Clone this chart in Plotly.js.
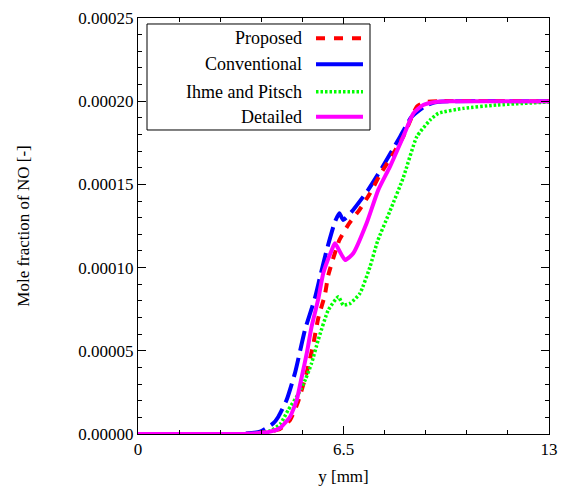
<!DOCTYPE html>
<html>
<head>
<meta charset="utf-8">
<script src="https://cdn.plot.ly/plotly-3.0.1.min.js"></script>
<style>html,body{margin:0;padding:0;background:#fff;}</style>
</head>
<body>
<div id="chart" style="width:567px;height:486px;"></div>
<script>
// Series names
const seriesNames = ["Proposed", "Conventional", "Ihme and Pitsch", "Detailed"];

// Proposed (red dashed)
const xProposed = [0, 3.2, 3.54, 4.02, 4.49, 4.81, 5.06, 5.34, 5.54, 5.70, 5.91, 6.02, 6.37, 6.68, 7.0, 7.34, 7.65, 8.08, 8.39, 8.71, 8.82, 9.08, 9.5, 13];
const yProposed = [0, 0, 2e-7, 1.0e-6, 3.0e-6, 8.4e-6, 1.92e-5, 3.73e-5, 5.35e-5, 6.95e-5, 8.35e-5, 9.55e-5, 1.166e-4, 1.266e-4, 1.346e-4, 1.447e-4, 1.557e-4, 1.687e-4, 1.787e-4, 1.927e-4, 1.967e-4, 1.995e-4, 2.0e-4, 2.0e-4];

// Conventional (blue)
const xConventional = [0, 3.2, 3.86, 4.28, 4.44, 4.70, 4.97, 5.28, 5.60, 5.76, 5.97, 6.23, 6.37, 6.49, 6.76, 7.28, 7.71, 8.29, 8.66, 9.13, 9.5, 10, 13];
const yConventional = [0, 0, 1.4e-6, 6.4e-6, 1.04e-5, 2.04e-5, 3.7e-5, 6.25e-5, 8.2e-5, 9.46e-5, 1.106e-4, 1.276e-4, 1.327e-4, 1.286e-4, 1.336e-4, 1.467e-4, 1.597e-4, 1.787e-4, 1.907e-4, 1.977e-4, 1.996e-4, 2.0e-4, 2.0e-4];

// Ihme and Pitsch (green dotted)
const xIhme = [0, 3.3, 3.8, 4.2, 4.5, 4.75, 5.07, 5.3, 5.49, 5.70, 6.02, 6.34, 6.49, 6.71, 7.02, 7.34, 7.58, 7.97, 8.39, 8.82, 9.24, 9.5, 10.29, 11.35, 13];
const yIhme = [0, 0, 5e-7, 2e-6, 6e-6, 1.44e-5, 2.4e-5, 3.3e-5, 4.25e-5, 5.65e-5, 7.45e-5, 8.25e-5, 7.75e-5, 7.85e-5, 8.45e-5, 1.006e-4, 1.16e-4, 1.34e-4, 1.54e-4, 1.787e-4, 1.887e-4, 1.927e-4, 1.957e-4, 1.977e-4, 1.995e-4];

// Detailed (magenta solid)
const xDetailed = [0, 3.0, 3.54, 4.18, 4.49, 4.81, 5.02, 5.18, 5.34, 5.49, 5.70, 5.86, 6.13, 6.23, 6.55, 6.81, 7.23, 7.60, 7.97, 8.39, 8.71, 9.02, 9.45, 10, 13];
const yDetailed = [0, 0, 2e-7, 1.4e-6, 3.6e-6, 1.04e-5, 2.04e-5, 3.44e-5, 4.87e-5, 6.45e-5, 8.1e-5, 9.66e-5, 1.106e-4, 1.146e-4, 1.046e-4, 1.086e-4, 1.266e-4, 1.467e-4, 1.607e-4, 1.787e-4, 1.927e-4, 1.977e-4, 1.997e-4, 2.0e-4, 2.0e-4];

// Axis ticks
const xTickVals = [0, 6.5, 13];
const xTickText = ["0", "6.5", "13"];

const colors = {Proposed: "#ff0000", Conventional: "#0000ff", Ihme: "#00ff00", Detailed: "#ff00ff"};
const serif = "Liberation Serif";

const traces = [
  {x: xConventional, y: yConventional, name: seriesNames[1], mode: "lines",
   line: {color: colors.Conventional, width: 4, dash: "20px,7px", shape: "spline", smoothing: 0.5}},
  {x: xProposed, y: yProposed, name: seriesNames[0], mode: "lines",
   line: {color: colors.Proposed, width: 4, dash: "9px,8px", shape: "spline", smoothing: 0.5}},
  {x: xIhme, y: yIhme, name: seriesNames[2], mode: "lines",
   line: {color: colors.Ihme, width: 3.5, dash: "2.5px,2px", shape: "spline", smoothing: 0.5}},
  {x: xDetailed, y: yDetailed, name: seriesNames[3], mode: "lines",
   line: {color: colors.Detailed, width: 4, dash: "solid", shape: "spline", smoothing: 0.5}}
];

// custom legend (text left, sample right)
const legendRowsY = [0.9512, 0.8887, 0.8228, 0.7627];
const legendStyles = [
  {color: colors.Proposed, dash: "9px,9px", width: 4},
  {color: colors.Conventional, dash: "solid", width: 4},
  {color: colors.Ihme, dash: "2.5px,2px", width: 3.5},
  {color: colors.Detailed, dash: "solid", width: 4}
];
const shapes = [{type: "rect", xref: "paper", yref: "paper", x0: 0.0219, x1: 0.5645, y0: 0.7308, y1: 0.9856,
  line: {color: "#000", width: 1}, fillcolor: "#fff", layer: "above"}];
const annotations = [];
seriesNames.forEach((n, i) => {
  const st = legendStyles[i];
  shapes.push({type: "line", xref: "paper", yref: "paper", x0: 0.4331, x1: 0.5474, y0: legendRowsY[i], y1: legendRowsY[i],
    line: {color: st.color, width: st.width, dash: st.dash}, layer: "above"});
  annotations.push({xref: "paper", yref: "paper", x: 0.4039, y: legendRowsY[i], xanchor: "right", yanchor: "middle",
    text: n, showarrow: false, font: {family: serif, size: 18, color: "#000"}});
});

const layout = {
  width: 567, height: 486,
  margin: {l: 138, r: 18, t: 18, b: 52},
  paper_bgcolor: "#fff", plot_bgcolor: "#fff",
  showlegend: false,
  font: {family: serif, size: 17, color: "#000"},
  xaxis: {
    range: [0, 13], tickvals: xTickVals, ticktext: xTickText,
    ticks: "inside", ticklen: 8, tickcolor: "#000", tickwidth: 1,
    minor: {dtick: 1.3, tick0: 0, ticks: "inside", ticklen: 4, tickcolor: "#000", showgrid: false},
    showline: true, linecolor: "#000", linewidth: 1, mirror: "ticks",
    showgrid: false, zeroline: false,
    tickfont: {family: serif, size: 17},
    title: {text: "y [mm]", font: {family: serif, size: 17}, standoff: 14}
  },
  yaxis: {
    range: [0, 0.00025], dtick: 0.00005, tick0: 0, tickformat: ".5f",
    ticks: "inside", ticklen: 8, tickcolor: "#000", tickwidth: 1,
    minor: {dtick: 0.00001, ticks: "inside", ticklen: 4, tickcolor: "#000", showgrid: false},
    showline: true, linecolor: "#000", linewidth: 1, mirror: "ticks",
    showgrid: false, zeroline: false,
    tickfont: {family: serif, size: 17},
    title: {text: "Mole fraction of NO [-]", font: {family: serif, size: 17}, standoff: 44}
  },
  shapes: shapes,
  annotations: annotations
};

Plotly.newPlot("chart", traces, layout, {displayModeBar: false, staticPlot: true});
</script>
</body>
</html>
